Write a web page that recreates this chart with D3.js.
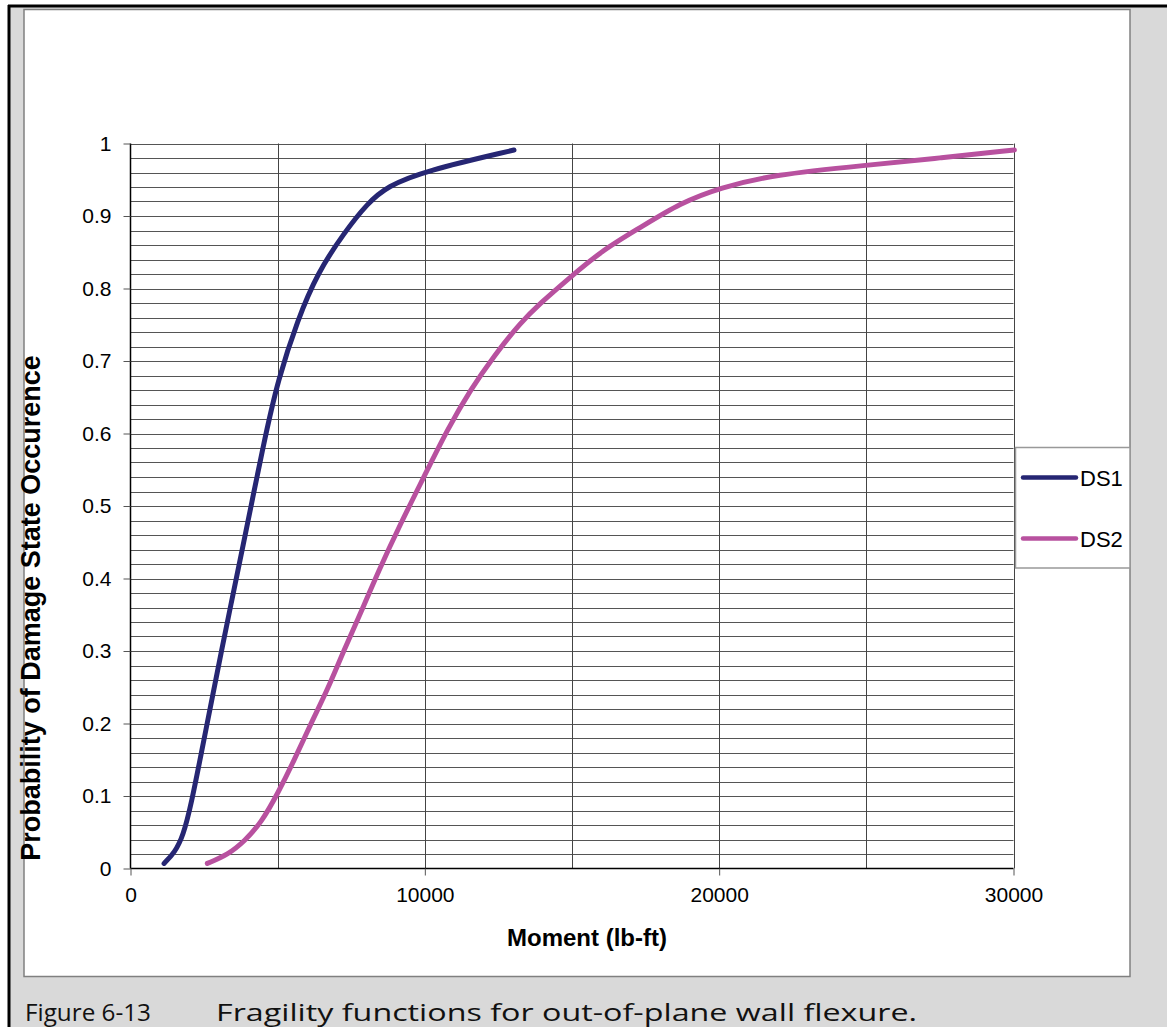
<!DOCTYPE html>
<html>
<head>
<meta charset="utf-8">
<script src="https://cdn.jsdelivr.net/npm/d3@7"></script>
<style>
  html, body { margin: 0; padding: 0; background: #fff; }
  svg { display: block; }
</style>
</head>
<body>
<div id="chart"></div>
<script>
// values
const ds1Moment = [1140, 1500, 1790, 2070, 2410, 2750, 3090, 3420, 3730, 4550, 5010, 5680, 6360, 7260, 8060, 8730, 9980, 13030];
const ds1Prob   = [0.007, 0.022, 0.045, 0.09, 0.16, 0.23, 0.30, 0.366, 0.426, 0.592, 0.674, 0.757, 0.822, 0.877, 0.918, 0.941, 0.962, 0.991];

const ds2Moment = [2610, 3310, 3880, 4440, 5010, 5570, 6140, 6700, 7260, 7830, 8400, 9190, 9980, 10770, 11560, 12350, 13250, 13930, 14840, 16000, 17320, 18680, 20030, 21840, 25000, 27490, 30030];
const ds2Prob   = [0.007, 0.019, 0.038, 0.063, 0.104, 0.150, 0.201, 0.247, 0.302, 0.353, 0.408, 0.477, 0.541, 0.606, 0.661, 0.707, 0.753, 0.780, 0.812, 0.852, 0.884, 0.918, 0.939, 0.957, 0.970, 0.980, 0.991];

const seriesNames = ["DS1", "DS2"];
const seriesColors = ["#262673", "#b8519f"];

const xTicks = [0, 10000, 20000, 30000];
const xGrid = [5000, 10000, 15000, 20000, 25000, 30000];
const yTicks = [0, 0.1, 0.2, 0.3, 0.4, 0.5, 0.6, 0.7, 0.8, 0.9, 1];
const yGrid = d3.range(1, 51).map(i => i / 50);

const W = 1167, H = 1027;
const svg = d3.select("#chart").append("svg")
  .attr("width", W)
  .attr("height", H);

// page frame
svg.append("rect").attr("x", 10).attr("y", 7).attr("width", W - 10).attr("height", H - 7).attr("fill", "#d9d9d9");
svg.append("line").attr("x1", 9).attr("x2", 9).attr("y1", 5).attr("y2", H).attr("stroke", "#000").attr("stroke-width", 3);
svg.append("line").attr("x1", 8).attr("x2", W).attr("y1", 6).attr("y2", 6).attr("stroke", "#000").attr("stroke-width", 3);

// chart area
svg.append("rect")
  .attr("x", 24).attr("y", 9.5).attr("width", 1106).attr("height", 967)
  .attr("fill", "#fff").attr("stroke", "#808080").attr("stroke-width", 1.5);

const x = d3.scaleLinear().domain([0, 30000]).range([130.5, 1013.5]);
const y = d3.scaleLinear().domain([0, 1]).range([868.5, 143.5]);

// gridlines
svg.append("g").selectAll("line").data(yGrid).enter().append("line")
  .attr("x1", x(0)).attr("x2", x(30000))
  .attr("y1", d => Math.round(y(d)) + 0.5).attr("y2", d => Math.round(y(d)) + 0.5)
  .attr("stroke", "#555").attr("stroke-width", 1);

svg.append("g").selectAll("line").data(xGrid).enter().append("line")
  .attr("x1", d => Math.round(x(d)) + 0.5).attr("x2", d => Math.round(x(d)) + 0.5)
  .attr("y1", y(0)).attr("y2", y(1))
  .attr("stroke", "#444").attr("stroke-width", 1);

// axes
const yAxis = d3.axisLeft(y).tickValues(yTicks).tickSize(7).tickPadding(12).tickFormat(d3.format(""));
const yg = svg.append("g").attr("transform", `translate(${x(0)},0)`).call(yAxis);
const xAxis = d3.axisBottom(x).tickValues(xTicks).tickSize(7).tickPadding(12).tickFormat(d3.format(""));
const xg = svg.append("g").attr("transform", `translate(0,${y(0)})`).call(xAxis);

[yg, xg].forEach(g => {
  g.select(".domain").attr("stroke", "#000").attr("stroke-width", 1.5);
  g.selectAll(".tick line").attr("stroke", "#555");
  g.selectAll("text").attr("font-family", "Arial, 'Liberation Sans', sans-serif").attr("font-size", 21).attr("fill", "#000");
});
xg.select(".domain").attr("d", `M${x(0)},0H${x(30000)}`);
yg.select(".domain").attr("d", `M0,${y(0)}V${y(1)}`);

// curves
const line = d3.line().x(d => x(d[0])).y(d => y(d[1])).curve(d3.curveBasis);
const series = [
  d3.zip(ds1Moment, ds1Prob),
  d3.zip(ds2Moment, ds2Prob)
];
svg.append("g").selectAll("path").data(series).enter().append("path")
  .attr("d", line)
  .attr("fill", "none")
  .attr("stroke", (d, i) => seriesColors[i])
  .attr("stroke-width", 5)
  .attr("stroke-linecap", "round")
  .attr("stroke-linejoin", "round");

// axis titles
svg.append("text")
  .attr("x", 587).attr("y", 946)
  .attr("text-anchor", "middle")
  .attr("font-family", "Arial, 'Liberation Sans', sans-serif")
  .attr("font-weight", "bold").attr("font-size", 24)
  .text("Moment (lb-ft)");

svg.append("text")
  .attr("transform", "translate(40,608) rotate(-90)")
  .attr("text-anchor", "middle")
  .attr("font-family", "Arial, 'Liberation Sans', sans-serif")
  .attr("font-weight", "bold").attr("font-size", 27)
  .text("Probability of Damage State Occurence");

// legend
const legend = svg.append("g");
legend.append("rect")
  .attr("x", 1015.5).attr("y", 447.5).attr("width", 114.5).attr("height", 120.5)
  .attr("fill", "#fff").attr("stroke", "#999").attr("stroke-width", 1.5);
const items = legend.selectAll("g.item").data(seriesNames).enter().append("g")
  .attr("class", "item")
  .attr("transform", (d, i) => `translate(0,${477.5 + i * 61})`);
items.append("line")
  .attr("x1", 1023).attr("x2", 1076)
  .attr("stroke", (d, i) => seriesColors[i])
  .attr("stroke-width", 4.5).attr("stroke-linecap", "round");
items.append("text")
  .attr("x", 1080).attr("y", 8)
  .attr("font-family", "Arial, 'Liberation Sans', sans-serif")
  .attr("font-size", 22)
  .text(d => d);

// caption
const capFont = "'Open Sans', Lato, sans-serif";
svg.append("text")
  .attr("x", 25).attr("y", 1021)
  .attr("font-family", capFont).attr("font-size", 23).attr("fill", "#111")
  .attr("textLength", 126).attr("lengthAdjust", "spacingAndGlyphs")
  .text("Figure 6-13");
svg.append("text")
  .attr("x", 216).attr("y", 1021)
  .attr("font-family", capFont).attr("font-size", 23).attr("fill", "#111")
  .attr("textLength", 701).attr("lengthAdjust", "spacingAndGlyphs")
  .text("Fragility functions for out-of-plane wall flexure.");
</script>
</body>
</html>
